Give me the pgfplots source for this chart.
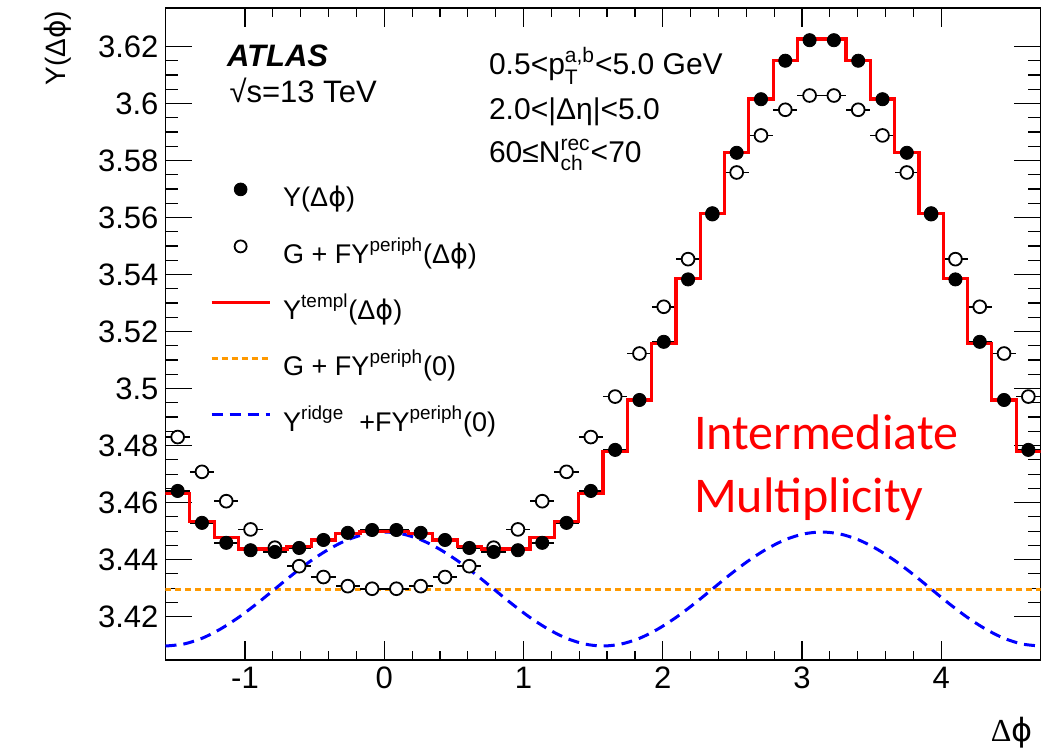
\documentclass[border=0pt]{standalone}
\usepackage{pgfplots}
\pgfplotsset{compat=1.18}
\usepackage{pgfplotstable}
\usepackage{amsmath}
\usepackage{fontspec}
\setmainfont{Liberation Sans}
\newfontfamily\seriffont{Liberation Serif}
\newfontfamily\dejavu{DejaVu Sans}
\newfontfamily\calibri{Carlito}

\definecolor{rootred}{RGB}{255,0,0}
\definecolor{rootorange}{RGB}{255,153,0}
\definecolor{rootblue}{RGB}{0,0,255}

\newcommand\sups[2]{\ensuremath{\text{#1}^{\text{#2}}}}
\newcommand\supsub[3]{\ensuremath{\text{#1}^{\text{#2}}_{\text{#3}}}}
\newcommand\dphi{Δ{\dejavu ϕ}}

% per-bin yields: measured Y and G + F Y^periph
\pgfplotstableread{
x ydat yper
-1.4835 3.4641 3.4830
-1.3090 3.4529 3.4708
-1.1345 3.4459 3.4605
-0.9599 3.4433 3.4506
-0.7854 3.4427 3.4442
-0.6109 3.4441 3.4377
-0.4363 3.4469 3.4339
-0.2618 3.4494 3.4307
-0.0873 3.4504 3.4298
0.0873 3.4504 3.4298
0.2618 3.4494 3.4307
0.4363 3.4469 3.4339
0.6109 3.4441 3.4377
0.7854 3.4427 3.4442
0.9599 3.4433 3.4506
1.1345 3.4459 3.4605
1.3090 3.4529 3.4708
1.4835 3.4641 3.4830
1.6581 3.4785 3.4972
1.8326 3.4960 3.5123
2.0071 3.5164 3.5287
2.1817 3.5383 3.5454
2.3562 3.5615 3.5612
2.5307 3.5827 3.5758
2.7053 3.6015 3.5888
2.8798 3.6150 3.5978
3.0543 3.6222 3.6028
3.2289 3.6222 3.6028
3.4034 3.6150 3.5978
3.5779 3.6015 3.5888
3.7525 3.5827 3.5758
3.9270 3.5615 3.5612
4.1015 3.5383 3.5454
4.2761 3.5164 3.5287
4.4506 3.4960 3.5123
4.6251 3.4785 3.4972
}\datatable

% template fit, one value per bin (left edges)
\pgfplotstableread{
edge ytempl
-1.5708 3.4633
-1.3963 3.4535
-1.2217 3.4477
-1.0472 3.4437
-0.8727 3.4437
-0.6981 3.4445
-0.5236 3.4469
-0.3491 3.4491
-0.1745 3.4499
0.0000 3.4499
0.1745 3.4491
0.3491 3.4469
0.5236 3.4445
0.6981 3.4437
0.8727 3.4437
1.0472 3.4477
1.2217 3.4535
1.3963 3.4633
1.5708 3.4779
1.7453 3.4960
1.9199 3.5159
2.0944 3.5387
2.2689 3.5615
2.4435 3.5827
2.6180 3.6016
2.7925 3.6152
2.9671 3.6226
3.1416 3.6226
3.3161 3.6152
3.4907 3.6016
3.6652 3.5827
3.8397 3.5615
4.0143 3.5387
4.1888 3.5159
4.3633 3.4960
4.5379 3.4779
4.7124 3.4779
}\templtable

% ridge component plus F Y^periph(0)
\pgfplotstableread{
x yridge
-1.5708 3.4097
-1.4399 3.4104
-1.3090 3.4124
-1.1781 3.4156
-1.0472 3.4197
-0.9163 3.4245
-0.7854 3.4297
-0.6545 3.4349
-0.5236 3.4397
-0.3927 3.4438
-0.2618 3.4470
-0.1309 3.4490
0.0000 3.4497
0.1309 3.4490
0.2618 3.4470
0.3927 3.4438
0.5236 3.4397
0.6545 3.4349
0.7854 3.4297
0.9163 3.4245
1.0472 3.4197
1.1781 3.4156
1.3090 3.4124
1.4399 3.4104
1.5708 3.4097
1.7017 3.4104
1.8326 3.4124
1.9635 3.4156
2.0944 3.4197
2.2253 3.4245
2.3562 3.4297
2.4871 3.4349
2.6180 3.4397
2.7489 3.4438
2.8798 3.4470
3.0107 3.4490
3.1416 3.4497
3.2725 3.4490
3.4034 3.4470
3.5343 3.4438
3.6652 3.4397
3.7961 3.4349
3.9270 3.4297
4.0579 3.4245
4.1888 3.4197
4.3197 3.4156
4.4506 3.4124
4.5815 3.4104
4.7124 3.4097
}\ridgetable

\pgfplotsset{
  legmark/.style={legend image code/.code={\draw[##1] plot coordinates {(14.5pt,5pt)};}},
  legline/.style={legend image code/.code={\draw[##1] (0pt,5pt) -- (29pt,5pt);}},
}

\begin{document}
\begin{tikzpicture}
\useasboundingbox (-82.75pt,-47pt) rectangle (440.25pt,330pt);
\begin{axis}[
  scale only axis, width=437.5pt, height=326pt,
  xmin=-1.5708, xmax=4.7124, ymin=3.4048, ymax=3.6335,
  xtick={-1,0,1,2,3,4},
  ytick={3.42,3.44,3.46,3.48,3.5,3.52,3.54,3.56,3.58,3.6,3.62},
  minor x tick num=4, minor y tick num=3,
  tick align=inside,
  major tick length=13.5pt, minor tick length=6.5pt,
  xtick style={/pgfplots/major tick length=9.5pt,/pgfplots/minor tick length=4.5pt},
  tick style={black, line width=0.6pt},
  axis line style={black, line width=0.9pt},
  /pgf/number format/assume math mode=true,
  ticklabel style={font=\fontsize{15.5}{18}\selectfont},
  yticklabel style={/pgf/number format/fixed, /pgf/number format/precision=2},
  legend style={draw=none, fill=none, at={(0.0509,0.7316)}, anchor=north west,
    inner sep=0pt, outer sep=0pt, row sep=13pt, column sep=6pt,
    font=\fontsize{13.5}{16}\selectfont,
    nodes={inner sep=0pt, outer sep=0pt, text height=11pt, text depth=4pt}},
  legend cell align=left,
]
\addplot[forget plot, rootorange, line width=1.5pt, dash pattern=on 3pt off 2pt]
  coordinates {(-1.5708,3.4297) (4.7124,3.4297)};
\addplot[forget plot, rootblue, line width=1.5pt, dash pattern=on 5.5pt off 3.5pt, smooth]
  table[x=x, y=yridge] {\ridgetable};
\addplot[forget plot, only marks, mark=*, mark size=3.2pt,
  mark options={fill=white, draw=black, line width=0.9pt},
  error bars/.cd, x dir=both, x fixed=0.0873, error mark=none,
  error bar style={black, line width=0.8pt}]
  table[x=x, y=yper] {\datatable};
\addplot[forget plot, only marks, mark=*, mark size=3.3pt, black,
  error bars/.cd, x dir=both, x fixed=0.0873, error mark=none,
  error bar style={black, line width=0.8pt}]
  table[x=x, y=ydat] {\datatable};
\addplot[forget plot, const plot, rootred, line width=1.6pt]
  table[x=edge, y=ytempl] {\templtable};

\addlegendimage{legmark, mark=*, mark size=3.2pt, black}
\addlegendentry{Y(\dphi)}
\addlegendimage{legmark, mark=*, mark size=3pt, mark options={fill=white, draw=black, line width=0.9pt}}
\addlegendentry{G + F\sups{Y}{periph}(\dphi)}
\addlegendimage{legline, rootred, line width=1.6pt}
\addlegendentry{\sups{Y}{templ}(\dphi)}
\addlegendimage{legline, rootorange, line width=1.5pt, dash pattern=on 3pt off 2pt}
\addlegendentry{G + F\sups{Y}{periph}(0)}
\addlegendimage{legline, rootblue, line width=1.5pt, dash pattern=on 5.5pt off 3.5pt}
\addlegendentry{\sups{Y}{ridge}\ \ +F\sups{Y}{periph}(0)}
\end{axis}

% axis titles
\node[rotate=90, anchor=base east, font=\fontsize{14}{16}\selectfont] at (-50pt,328pt) {Y(\dphi)};
\node[anchor=base east, font=\seriffont\fontsize{16}{18}\selectfont] at (437pt,-41pt) {Δ{\dejavu ϕ}};

% labels
\node[anchor=base west, font=\fontsize{15.5}{18}\selectfont\bfseries\itshape] at (27.25pt,296.5pt) {ATLAS};
\node[anchor=base west, font=\fontsize{15.5}{18}\selectfont] at (28.5pt,278.5pt) {√s=13 TeV};
\node[anchor=base west, font=\fontsize{15}{18}\selectfont] at (158.25pt,292.5pt) {0.5<\supsub{p}{a,b}{T}<5.0 GeV};
\node[anchor=base west, font=\fontsize{15}{18}\selectfont] at (158.25pt,270pt) {2.0<|Δη|<5.0};
\node[anchor=base west, font=\fontsize{15}{18}\selectfont] at (158.25pt,248.5pt) {60≤\supsub{N}{rec}{ch}<70};

\node[anchor=base west, text=rootred, font=\calibri\fontsize{25}{30}\selectfont] at (260.75pt,105pt) {Intermediate};
\node[anchor=base west, text=rootred, font=\calibri\fontsize{25}{30}\selectfont] at (260.75pt,73.5pt) {Multiplicity};
\end{tikzpicture}
\end{document}
